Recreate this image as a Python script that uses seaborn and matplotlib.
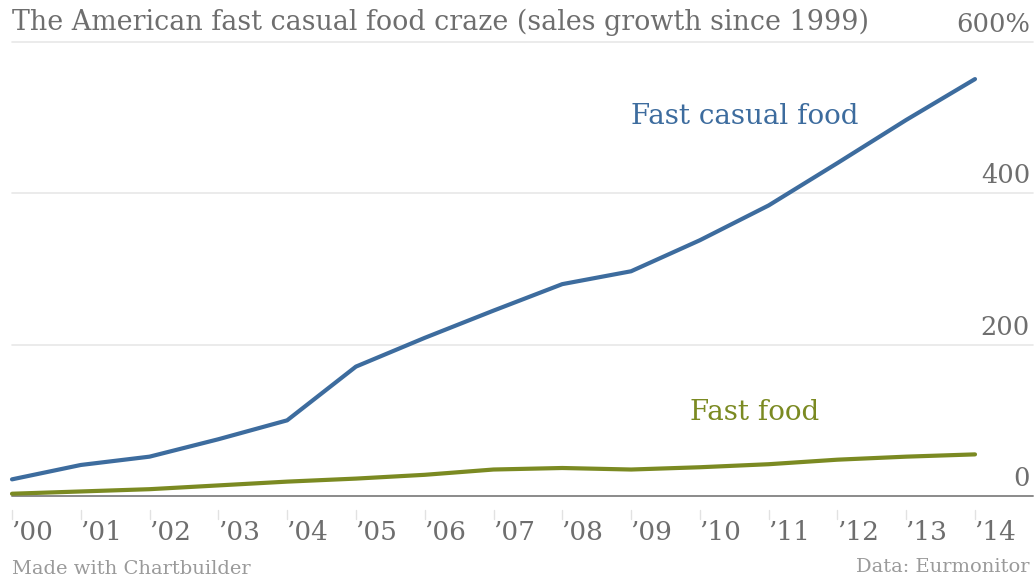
import matplotlib
matplotlib.use("Agg")
import matplotlib.pyplot as plt
import seaborn as sns
import pandas as pd

# Sales growth since 1999, in percent
years = list(range(2000, 2015))
year_labels = ["’00", "’01", "’02", "’03", "’04", "’05", "’06", "’07",
               "’08", "’09", "’10", "’11", "’12", "’13", "’14"]
fast_casual = [22, 41, 52, 75, 100, 171, 209, 245, 280, 297, 338, 384, 440, 497, 551]
fast_food = [3, 6, 9, 14, 19, 23, 28, 35, 37, 35, 38, 42, 48, 52, 55]
y_ticks = [0, 200, 400, 600]
y_tick_labels = ["0", "200", "400", "600%"]

BLUE = "#3d6c9e"
OLIVE = "#7b8a22"
GREY = "#6e6e6e"

sns.set_theme(style="white")
plt.rcParams["font.family"] = ["DejaVu Serif"]

df = pd.DataFrame({
    "idx": list(range(len(years))) * 2,
    "growth": fast_casual + fast_food,
    "series": ["Fast casual food"] * len(years) + ["Fast food"] * len(years),
})

fig = plt.figure(figsize=(10.34, 5.79), dpi=100)
ax = fig.add_axes([12 / 1034, (579 - 496) / 579, (1033 - 12) / 1034, (496 - 42) / 579])

# gridlines
for v in y_ticks[1:]:
    ax.axhline(v, color="#e8e8e8", lw=1.2, zorder=0)
ax.axhline(0, color="#8a8a8a", lw=1.4, zorder=1)

sns.lineplot(data=df, x="idx", y="growth", hue="series",
             palette={"Fast casual food": BLUE, "Fast food": OLIVE},
             linewidth=3.0, legend=False, ax=ax, zorder=3)
for line in ax.lines:
    line.set_solid_capstyle("round")
    line.set_clip_on(False)

ax.set_xlim(0, (1033 - 12) / ((975 - 12) / 14))
ax.set_ylim(0, 600)
ax.set_xticks([])
ax.set_yticks([])
ax.set_xlabel("")
ax.set_ylabel("")
for s in ax.spines.values():
    s.set_visible(False)

# year labels with small tick marks below the baseline
for i, lab in enumerate(year_labels):
    ax.plot([i, i], [-18, -31], color="#e2e2e2", lw=1.0, clip_on=False)
    ax.text(i - 0.01, -48, lab, ha="left", va="center", fontsize=19, color=GREY)

# value labels on the right edge, sitting above the gridlines
for v, lab in zip(y_ticks, y_tick_labels):
    fig.text(1030 / 1034, (579 - (496 - v * (454 / 600)) + 5) / 579, lab,
             ha="right", va="bottom", fontsize=18.5, color=GREY)

# series labels
ax.text(9.0, 502, "Fast casual food", color=BLUE, fontsize=20, ha="left", va="center")
ax.text(9.85, 111, "Fast food", color=OLIVE, fontsize=20, ha="left", va="center")

fig.text(12 / 1034, 1 - 22 / 579, "The American fast casual food craze (sales growth since 1999)",
         ha="left", va="center", fontsize=19.4, color=GREY)
fig.text(12 / 1034, 1 - 569 / 579, "Made with Chartbuilder", ha="left", va="center",
         fontsize=14, color="#9a9a9a")
fig.text(1030 / 1034, 1 - 567 / 579, "Data: Eurmonitor", ha="right", va="center",
         fontsize=14, color="#9a9a9a")

fig.savefig("out.png", dpi=100, facecolor="white")
